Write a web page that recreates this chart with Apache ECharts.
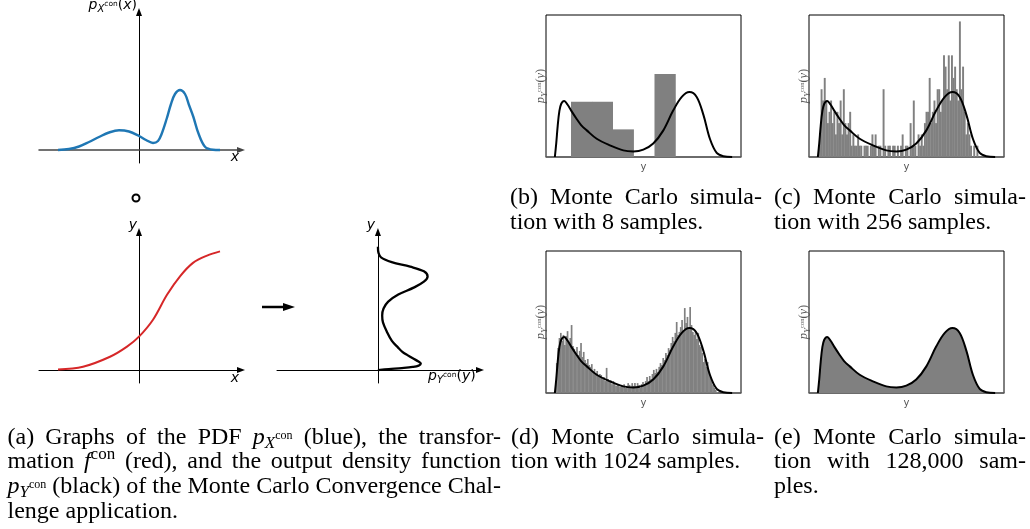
<!DOCTYPE html>
<html><head><meta charset="utf-8">
<script src="https://cdn.jsdelivr.net/npm/echarts@6/dist/echarts.min.js"></script>
<style>html,body{margin:0;padding:0;background:#fff}#c{width:1030px;height:529px}</style>
</head><body><div id="c"></div>
<script>
// ================= DATA =================
// (a) input PDF p_X(x)
const pdfX_x = [-4.05,-3.5,-3.0,-2.5,-2.0,-1.5,-1.0,-0.5,0,0.35,0.7,0.95,1.13,1.38,1.6,1.8,2.05,2.3,2.5,2.72,2.97,3.3,3.7,4.05];
const pdfX_p = [0,0.01,0.035,0.08,0.13,0.175,0.198,0.185,0.14,0.10,0.07,0.09,0.16,0.31,0.46,0.56,0.60,0.56,0.45,0.33,0.167,0.033,0.003,0];
// (a) transformation f(x) -> y
const transf_x = [-4.05,-2.8,-1.45,-0.6,0,0.7,1.4,2.05,2.7,3.4,4.05];
const transf_y = [0.005,0.027,0.108,0.190,0.271,0.408,0.610,0.760,0.869,0.928,0.962];
// output density p_Y(y)
const pdfY_y = [0,0.008,0.016,0.025,0.036,0.053,0.071,0.093,0.123,0.148,0.180,0.236,0.311,0.386,0.443,0.499,0.555,0.612,0.668,0.716,0.759,0.800,0.838,0.875,0.913,0.950,1.0];
const pdfY_p = [0,0.56,1.23,1.79,2.10,2.21,2.07,1.82,1.50,1.26,1.05,0.72,0.46,0.26,0.22,0.29,0.53,1.05,1.84,2.37,2.56,2.37,1.66,0.71,0.16,0.03,0];
// (b) 8 samples: bin edges and counts
const hist8_edges = [0.091,0.209,0.326,0.444,0.562,0.680];
const hist8_counts = [2,2,1,0,3];
// (c) 256 samples: range and counts per bin
const hist256_range = [0.0064,0.9034];
const hist256_counts = [2,6,5,7,5,3,4,5,3,4, 2,4,3,5,2,6,3,2,3,4, 1,2,1,1,2,1,1,0,1,1, 1,0,1,2,1,2,0,1,1,0, 6,1,0,1,1,0,1,1,0,1, 0,1,2,0,1,1,0,3,1,5, 1,0,2,1,2,1,3,4,4,7, 3,4,5,3,6,6,4,5,9,8, 6,9,5,9,7,8,6,5,12,6, 8,4,2,3,2,1,0,1,0,1];
// (d) 1024 samples: range and density per bin
const hist1024_range = [0.006,0.918];
const hist1024_density = [1.18,1.77,2.17,2.37,2.05,2.29,1.89,2.25,2.44,1.97,2.17,2.68,1.85,1.74,1.58,1.81,1.50,1.66,1.97,1.42,1.62,1.30,1.18,1.34,1.10,1.03,1.14,0.87,0.95,0.79,0.87,0.67,0.75,0.71,0.55,0.63,0.47,0.99,0.55,0.43,0.51,0.35,0.47,0.39,0.28,0.35,0.32,0.24,0.32,0.28,0.35,0.20,0.28,0.39,0.32,0.20,0.39,0.28,0.39,0.24,0.39,0.32,0.20,0.35,0.43,0.32,0.47,0.63,0.47,0.67,0.55,0.75,0.91,0.79,0.95,0.83,1.03,1.18,1.10,1.38,1.30,1.58,1.50,1.77,1.70,1.97,2.21,2.05,2.37,2.80,2.29,2.41,2.60,2.88,2.48,3.35,2.76,3.00,2.52,3.39,2.68,2.41,2.29,2.44,2.13,2.37,1.89,1.81,1.58,1.22,1.34,1.03,1.22,0.79,0.63,0.47,0.32,0.20,0.12,0.04];
// captions
const capA = ["(a) Graphs of the PDF p_{X^con} (blue), the transfor-","mation f^con (red), and the output density function","p_{Y^con} (black) of the Monte Carlo Convergence Chal-","lenge application."];
const capB = ["(b) Monte Carlo simula-","tion with 8 samples."];
const capC = ["(c) Monte Carlo simula-","tion with 256 samples."];
const capD = ["(d) Monte Carlo simula-","tion with 1024 samples."];
const capE = ["(e) Monte Carlo simula-","tion with 128,000 sam-","ples."];

// ================= LAYOUT =================
const G = {
  p1:{left:39,top:12,width:202,height:151},
  p2:{left:39,top:232,width:202,height:151},
  p3:{left:277,top:232,width:203,height:151},
  b:{left:546,top:15,width:195,height:142},
  c:{left:809,top:15,width:195,height:142},
  d:{left:546,top:251,width:195,height:142},
  e:{left:809,top:251,width:195,height:142}
};
const SERIF = "'Liberation Serif','Times New Roman',serif";
const SANS = "'DejaVu Sans',sans-serif";
const ctx = document.createElement('canvas').getContext('2d');
function measure(t,f){ctx.font=f;return ctx.measureText(t).width;}
function fontOf(s){return (s.italic?'italic ':'')+s.size+'px '+s.fam;}
function runsWidth(runs,S){return runs.reduce((a,[t,n])=>a+measure(t,fontOf(S[n])),0);}
function layoutRuns(runs,S,x,base,fill,out){
  let cx=x;
  runs.forEach(([t,n])=>{
    const s=S[n],f=fontOf(s);
    out.push({type:'text',x:cx,y:base+s.shift-0.34*s.size,silent:true,
      style:{text:t,font:f,fill:fill,align:'left',verticalAlign:'middle',textAlign:'left',textVerticalAlign:'middle'}});
    cx+=measure(t,f);
  });
  return cx-x;
}
const CAP = {
  rm:{size:24,italic:false,shift:0,fam:SERIF},
  it:{size:24,italic:true,shift:0,fam:SERIF},
  sub:{size:17,italic:true,shift:3.5,fam:SERIF},
  subsup:{size:12,italic:false,shift:-5.5,fam:SERIF},
  sup:{size:17,italic:false,shift:-9.5,fam:SERIF}
};
function parseWord(w){
  let m=w.match(/^p_\{([XY])\^con\}$/);
  if(m) return [['p','it'],[m[1],'sub'],['con','subsup']];
  if(w==='f^con') return [['f','it'],['con','sup']];
  return [[w,'rm']];
}
function caption(lines,x,width,y0,lh,out){
  lines.forEach((line,li)=>{
    const words=line.split(' ').map(parseWord);
    const ws=words.map(r=>runsWidth(r,CAP));
    const tot=ws.reduce((a,b)=>a+b,0);
    const last=li===lines.length-1;
    const sp=last?measure(' ',fontOf(CAP.rm)):(width-tot)/(words.length-1);
    let cx=x;
    words.forEach((r,i)=>{layoutRuns(r,CAP,cx,y0+li*lh,'#000',out);cx+=ws[i]+sp;});
  });
}
const LBL = {
  i:{size:14,italic:true,shift:0,fam:SANS},
  r:{size:14,italic:false,shift:0,fam:SANS},
  s:{size:10,italic:true,shift:3,fam:SANS},
  ss:{size:7.5,italic:false,shift:-3.5,fam:SANS}
};
const YL = {
  i:{size:12.5,italic:true,shift:0,fam:SERIF},
  r:{size:12.5,italic:false,shift:0,fam:SERIF},
  s:{size:9,italic:true,shift:2.5,fam:SERIF},
  ss:{size:6.5,italic:false,shift:-3,fam:SERIF}
};
const pLabel = (v,arg)=>[['p','i'],[v,'s'],['con','ss'],['(','r'],[arg,'i'],[')','r']];

const elements=[];
// left panel labels
(function(){
  const r1=pLabel('X','x'); const w1=runsWidth(r1,LBL);
  layoutRuns(r1,LBL,G.p1.left+100-2-w1,10,'#000',elements);
  const wx=measure('x',fontOf(LBL.i));
  layoutRuns([['x','i']],LBL,G.p1.left+G.p1.width-6-wx/2,162,'#000',elements);
  layoutRuns([['x','i']],LBL,G.p2.left+G.p2.width-6-wx/2,383,'#000',elements);
  const wy=measure('y',fontOf(LBL.i));
  layoutRuns([['y','i']],LBL,G.p2.left+100-2-wy,230,'#000',elements);
  layoutRuns([['y','i']],LBL,G.p3.left+101-3-wy,230,'#000',elements);
  layoutRuns(pLabel('Y','y'),LBL,428,381,'#000',elements);
})();
// composition circle and arrow
elements.push({type:'circle',shape:{cx:136,cy:198,r:3.5},style:{fill:'none',stroke:'#000',lineWidth:2}});
elements.push({type:'line',shape:{x1:262,y1:307,x2:286,y2:307},style:{stroke:'#000',lineWidth:2.5}});
elements.push({type:'polygon',shape:{points:[[283,303],[295,307],[283,311]]},style:{fill:'#000'}});
// rotated y labels on subplots
['b','c','d','e'].forEach(k=>{
  const g=G[k]; const runs=pLabel('Y','y'); const w=runsWidth(runs,YL);
  const ch=[]; layoutRuns(runs,YL,-w/2,4,'#555',ch);
  elements.push({type:'group',x:g.left-5,y:g.top+g.height/2,rotation:Math.PI/2,children:ch,silent:true});
});
// captions
caption(capA,7.5,493.5,445.5,24.7,elements);
caption(capB,510,252,206,24.7,elements);
caption(capC,774,252,206,24.7,elements);
caption(capD,511,253,445.5,24.7,elements);
caption(capE,774,252,445.5,24.7,elements);

// ================= CHART =================
const zip=(a,b)=>a.map((v,i)=>[v,b[i]]);
const grids=['p1','p2','p3','b','c','d','e'].map(k=>{
  const g=Object.assign({},G[k]);
  if('bcde'.includes(k)){g.show=true;g.borderColor='#000';g.borderWidth=1;g.backgroundColor='transparent';}
  return g;
});
const hidden={axisTick:{show:false},axisLabel:{show:false},splitLine:{show:false}};
function arrowAxis(extra){return Object.assign({type:'value',axisLine:{show:true,onZero:true,symbol:['none','triangle'],symbolSize:[6,8],lineStyle:{color:'#000',width:1}}},hidden,extra);}
const xAxes=[
  arrowAxis({gridIndex:0,min:-5,max:5.1,axisLine:{show:true,onZero:true,symbol:['none','triangle'],symbolSize:[6,8],lineStyle:{color:'#444',width:1.5}}}),
  arrowAxis({gridIndex:1,min:-5,max:5.1}),
  arrowAxis({gridIndex:2,min:-5.2,max:5.26}),
];
const yAxes=[
  arrowAxis({gridIndex:0,min:-0.13,max:1.38}),
  arrowAxis({gridIndex:1,min:-0.105,max:1.119}),
  arrowAxis({gridIndex:2,min:-0.105,max:1.119}),
];
['b','c','d','e'].forEach((k,i)=>{
  xAxes.push(Object.assign({type:'value',gridIndex:3+i,min:-0.05,max:1.05,name:'y',nameLocation:'middle',nameGap:5,
    nameTextStyle:{color:'#555',fontSize:10,fontFamily:SANS},
    axisLine:{show:true,onZero:false,lineStyle:{color:'#666',width:1.6}}},hidden));
  yAxes.push(Object.assign({type:'value',gridIndex:3+i,min:0,max:5.6,axisLine:{show:false}},hidden));
});
// count axes for (b) and (c)
yAxes.push(Object.assign({type:'value',gridIndex:3,min:0,max:5.14,axisLine:{show:false}},hidden));
yAxes.push(Object.assign({type:'value',gridIndex:4,min:0,max:12.57,axisLine:{show:false}},hidden));

function rectItem(params,api){
  const p0=api.coord([api.value(0),0]);
  const p1=api.coord([api.value(1),api.value(2)]);
  return {type:'rect',shape:{x:p0[0],y:p1[1],width:p1[0]-p0[0]+0.35,height:p0[1]-p1[1]},style:{fill:'#808080'}};
}
function binsFromRange(range,vals){
  const w=(range[1]-range[0])/vals.length;
  return vals.map((v,i)=>[range[0]+i*w,range[0]+(i+1)*w,v]);
}
function hist(xi,yi,data){return {type:'custom',xAxisIndex:xi,yAxisIndex:yi,renderItem:rectItem,encode:{x:[0,1],y:2},data:data,z:2,silent:true};}
function curve(xi,yi,data,extra){return Object.assign({type:'line',xAxisIndex:xi,yAxisIndex:yi,data:data,smooth:0.35,showSymbol:false,symbol:'none',z:3,silent:true,
  lineStyle:{color:'#000',width:2}},extra||{});}

const series=[
  curve(0,0,zip(pdfX_x,pdfX_p),{lineStyle:{color:'#1f77b4',width:2.4}}),
  curve(1,1,zip(transf_x,transf_y),{lineStyle:{color:'#d62728',width:2}}),
  curve(2,2,zip(pdfY_p,pdfY_y),{lineStyle:{color:'#000',width:2.3}}),
  hist(3,7,hist8_counts.map((c,i)=>[hist8_edges[i],hist8_edges[i+1],c])),
  curve(3,3,zip(pdfY_y,pdfY_p)),
  hist(4,8,binsFromRange(hist256_range,hist256_counts)),
  curve(4,4,zip(pdfY_y,pdfY_p)),
  hist(5,5,binsFromRange(hist1024_range,hist1024_density)),
  curve(5,5,zip(pdfY_y,pdfY_p)),
  curve(6,6,zip(pdfY_y,pdfY_p),{areaStyle:{color:'#808080',opacity:1}})
];

const chart=echarts.init(document.getElementById('c'),null,{renderer:'canvas'});
chart.setOption({animation:false,backgroundColor:'#fff',grid:grids,xAxis:xAxes,yAxis:yAxes,series:series,graphic:{elements:elements}});
</script></body></html>
